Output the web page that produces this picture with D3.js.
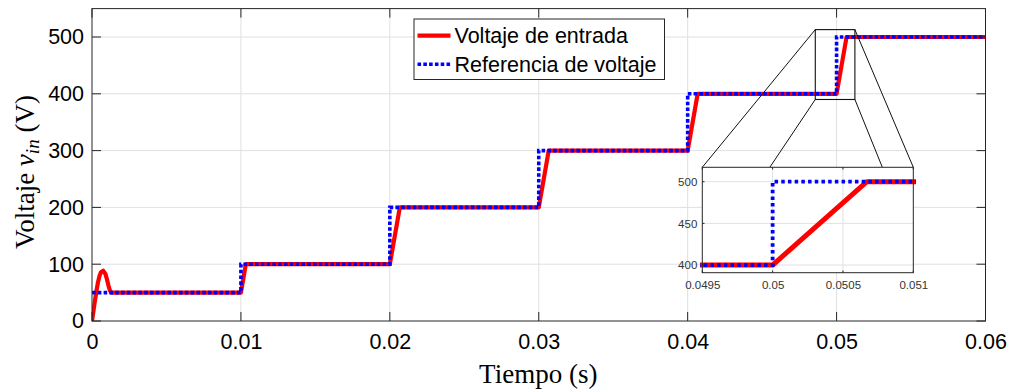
<!DOCTYPE html>
<html>
<head>
<meta charset="utf-8">
<script src="https://cdn.jsdelivr.net/npm/d3@7"></script>
<style>
  html, body { margin: 0; padding: 0; background: #fff; }
  svg { display: block; }
  .tick text { font-family: "Liberation Sans", Arial, sans-serif; }
</style>
</head>
<body>
<svg id="chart" width="1018" height="389"></svg>
<script>
// ---------------- DATA ----------------
const xTicks = [0, 0.01, 0.02, 0.03, 0.04, 0.05, 0.06];
const xTickLabels = ["0", "0.01", "0.02", "0.03", "0.04", "0.05", "0.06"];
const yTicks = [0, 100, 200, 300, 400, 500];
const xDomain = [0, 0.06];
const yDomain = [0, 550];

// Reference (step) voltage: [time, volts]
const refTime  = [0, 0.01, 0.01, 0.02, 0.02, 0.03, 0.03, 0.04, 0.04, 0.05, 0.05, 0.06];
const refValue = [50, 50, 100, 100, 200, 200, 300, 300, 400, 400, 500, 500];

// Measured input voltage: [time, volts]
const vinTime  = [0, 0.0001, 0.0002, 0.0003, 0.0004, 0.0005, 0.0006, 0.00075, 0.0009, 0.001, 0.0011, 0.0012, 0.0013,
                  0.01, 0.01033, 0.02, 0.02067, 0.03, 0.03067, 0.04, 0.04067, 0.05, 0.05067, 0.06];
const vinValue = [0, 18, 36, 53, 68, 79, 86, 88.5, 83, 74, 63, 54, 50,
                  50, 100, 100, 200, 200, 300, 300, 400, 400, 500, 500];

const seriesNames = ["Voltaje de entrada", "Referencia de voltaje"];

// Zoom inset
const insetXDomain = [0.0495, 0.051];
const insetYDomain = [390.8, 517.3];
const insetXTicks = [0.0495, 0.05, 0.0505, 0.051];
const insetXTickLabels = ["0.0495", "0.05", "0.0505", "0.051"];
const insetYTicks = [400, 450, 500];
// zoom marker rectangle in main-axes data units
const zoomRectX = [0.04857, 0.05123];
const zoomRectY = [390, 513];
// connector lines: main rect corner (x,y) -> inset top-edge x (data units)
const connFromX = [0.04857, 0.04857, 0.05123, 0.05123];
const connFromY = [513, 390, 513, 390];
const connToX   = [0.0495, 0.04998, 0.051, 0.05078];

// ---------------- LAYOUT ----------------
const svg = d3.select("#chart");
const M = {left: 92, right: 985.5, top: 8.6, bottom: 321};
const x = d3.scaleLinear().domain(xDomain).range([M.left, M.right]);
const y = d3.scaleLinear().domain(yDomain).range([M.bottom, M.top]);

const axisColor = "#262626";
const gridColor = "#e0e0e0";
const red = "#ff0000";
const blue = "#0000ff";

svg.append("rect").attr("width", 1018).attr("height", 389).attr("fill", "#fff");

// grid
const grid = svg.append("g");
grid.selectAll(".gx").data(xTicks.slice(1, -1)).enter().append("line")
  .attr("x1", d => x(d)).attr("x2", d => x(d))
  .attr("y1", M.top).attr("y2", M.bottom)
  .attr("stroke", gridColor).attr("stroke-width", 1);
grid.selectAll(".gy").data(yTicks.slice(1)).enter().append("line")
  .attr("x1", M.left).attr("x2", M.right)
  .attr("y1", d => y(d)).attr("y2", d => y(d))
  .attr("stroke", gridColor).attr("stroke-width", 1);

// clip
svg.append("clipPath").attr("id", "clipMain").append("rect")
  .attr("x", M.left).attr("y", M.top - 2).attr("width", M.right - M.left + 3).attr("height", M.bottom - M.top + 2);

const refPts = refTime.map((t, i) => [t, refValue[i]]);
const vinPts = vinTime.map((t, i) => [t, vinValue[i]]);

const line = d3.line().x(d => x(d[0])).y(d => y(d[1]));
const plot = svg.append("g").attr("clip-path", "url(#clipMain)");
plot.append("path").datum(vinPts).attr("d", line)
  .attr("fill", "none").attr("stroke", red).attr("stroke-width", 4.2).attr("stroke-linejoin", "round");
plot.append("path").datum(refPts).attr("d", line)
  .attr("fill", "none").attr("stroke", blue).attr("stroke-width", 3.6)
  .attr("stroke-dasharray", "3.6,2.2");

// axes (ticks inward)
const xAxis = d3.axisBottom(x).tickValues(xTicks).tickFormat((d, i) => xTickLabels[i]).tickSize(0).tickPadding(13);
const yAxis = d3.axisLeft(y).tickValues(yTicks).tickSize(0).tickPadding(8);
const gx = svg.append("g").attr("transform", `translate(0,${M.bottom})`).call(xAxis);
const gy = svg.append("g").attr("transform", `translate(${M.left},0)`).call(yAxis);
[gx, gy].forEach(g => {
  g.select(".domain").remove();
  g.selectAll("text").attr("font-size", "21.5px").attr("fill", "#000")
    .attr("font-family", "'Liberation Sans', Arial, sans-serif");
});
// inward tick marks
const tl = 9;
svg.append("g").selectAll("line").data(xTicks).enter().append("line")
  .attr("x1", d => x(d)).attr("x2", d => x(d)).attr("y1", M.bottom).attr("y2", M.bottom - tl)
  .attr("stroke", axisColor);
svg.append("g").selectAll("line").data(xTicks).enter().append("line")
  .attr("x1", d => x(d)).attr("x2", d => x(d)).attr("y1", M.top).attr("y2", M.top + tl)
  .attr("stroke", axisColor);
svg.append("g").selectAll("line").data(yTicks).enter().append("line")
  .attr("x1", M.left).attr("x2", M.left + tl).attr("y1", d => y(d)).attr("y2", d => y(d))
  .attr("stroke", axisColor);
svg.append("g").selectAll("line").data(yTicks).enter().append("line")
  .attr("x1", M.right).attr("x2", M.right - tl).attr("y1", d => y(d)).attr("y2", d => y(d))
  .attr("stroke", axisColor);
// frame
svg.append("rect").attr("x", M.left).attr("y", M.top)
  .attr("width", M.right - M.left).attr("height", M.bottom - M.top)
  .attr("fill", "none").attr("stroke", axisColor).attr("stroke-width", 1);

// axis labels
svg.append("text")
  .attr("x", (M.left + M.right) / 2 - 0.5).attr("y", 383)
  .attr("text-anchor", "middle")
  .attr("font-family", "'Liberation Serif', 'Times New Roman', serif")
  .attr("font-size", "27px").attr("fill", "#000")
  .text("Tiempo (s)");

const yl = svg.append("text")
  .attr("transform", "translate(34,172) rotate(-90)")
  .attr("text-anchor", "middle")
  .attr("font-family", "'Liberation Serif', 'Times New Roman', serif")
  .attr("font-size", "27px").attr("fill", "#000");
yl.append("tspan").text("Voltaje ");
yl.append("tspan").attr("font-style", "italic").text("v");
yl.append("tspan").attr("font-style", "italic").attr("font-size", "19px").attr("dy", "5").text("in");
yl.append("tspan").attr("dy", "-5").text(" (V)");

// zoom marker rectangle + connectors
const ix = d3.scaleLinear().domain(insetXDomain).range([702.3, 913.3]);
const iy = d3.scaleLinear().domain(insetYDomain).range([272.7, 167.3]);

svg.append("rect")
  .attr("x", x(zoomRectX[0])).attr("y", y(zoomRectY[1]))
  .attr("width", x(zoomRectX[1]) - x(zoomRectX[0]))
  .attr("height", y(zoomRectY[0]) - y(zoomRectY[1]))
  .attr("fill", "none").attr("stroke", "#111").attr("stroke-width", 1.1);
svg.append("g").selectAll("line").data(connFromX).enter().append("line")
  .attr("x1", (d, i) => x(d)).attr("y1", (d, i) => y(connFromY[i]))
  .attr("x2", (d, i) => ix(connToX[i])).attr("y2", iy(insetYDomain[1]))
  .attr("stroke", "#111").attr("stroke-width", 1);

// ---------------- INSET ----------------
const inset = svg.append("g");
inset.append("rect").attr("x", 702.3).attr("y", 167.3).attr("width", 211).attr("height", 105.4).attr("fill", "#fff");
inset.selectAll(".igx").data(insetXTicks.slice(1, -1)).enter().append("line")
  .attr("x1", d => ix(d)).attr("x2", d => ix(d)).attr("y1", 167.3).attr("y2", 272.7)
  .attr("stroke", gridColor);
inset.selectAll(".igy").data(insetYTicks).enter().append("line")
  .attr("x1", 702.3).attr("x2", 913.3).attr("y1", d => iy(d)).attr("y2", d => iy(d))
  .attr("stroke", gridColor);

svg.append("clipPath").attr("id", "clipInset").append("rect")
  .attr("x", 700).attr("y", 167.3).attr("width", 216).attr("height", 105.4);
const iline = d3.line().x(d => ix(d[0])).y(d => iy(d[1]));
const ip = inset.append("g").attr("clip-path", "url(#clipInset)");
ip.append("path").datum(vinPts).attr("d", iline)
  .attr("fill", "none").attr("stroke", red).attr("stroke-width", 5).attr("stroke-linejoin", "round");
ip.append("path").datum(refPts).attr("d", iline)
  .attr("fill", "none").attr("stroke", blue).attr("stroke-width", 3.8)
  .attr("stroke-dasharray", "3.5,3.2");

const ixAxis = d3.axisBottom(ix).tickValues(insetXTicks).tickFormat((d, i) => insetXTickLabels[i]).tickSize(0).tickPadding(8);
const iyAxis = d3.axisLeft(iy).tickValues(insetYTicks).tickSize(0).tickPadding(5);
const igx = inset.append("g").attr("transform", "translate(0,272.7)").call(ixAxis);
const igy = inset.append("g").attr("transform", "translate(702.3,0)").call(iyAxis);
[igx, igy].forEach(g => {
  g.select(".domain").remove();
  g.selectAll("text").attr("font-size", "11.5px").attr("fill", "#333")
    .attr("font-family", "'Liberation Sans', Arial, sans-serif");
});
inset.selectAll(".itx").data(insetXTicks).enter().append("line")
  .attr("x1", d => ix(d)).attr("x2", d => ix(d)).attr("y1", 272.7).attr("y2", 270.5).attr("stroke", axisColor);
inset.selectAll(".itx2").data(insetXTicks).enter().append("line")
  .attr("x1", d => ix(d)).attr("x2", d => ix(d)).attr("y1", 167.3).attr("y2", 169.5).attr("stroke", axisColor);
inset.selectAll(".ity").data(insetYTicks).enter().append("line")
  .attr("x1", 702.3).attr("x2", 704.5).attr("y1", d => iy(d)).attr("y2", d => iy(d)).attr("stroke", axisColor);
inset.append("rect").attr("x", 702.3).attr("y", 167.3).attr("width", 211).attr("height", 105.4)
  .attr("fill", "none").attr("stroke", axisColor).attr("stroke-width", 1);

// ---------------- LEGEND ----------------
const lg = svg.append("g");
lg.append("rect").attr("x", 414).attr("y", 19).attr("width", 250.5).attr("height", 60.5)
  .attr("fill", "#fff").attr("stroke", axisColor).attr("stroke-width", 1);
const legendRows = [
  {name: seriesNames[0], color: red, width: 4.2, dash: null},
  {name: seriesNames[1], color: blue, width: 3.6, dash: "3.6,2.2"}
];
legendRows.forEach((r, i) => {
  const cy = 35.7 + i * 28.6;
  lg.append("line").attr("x1", 417.5).attr("x2", 450.5).attr("y1", cy).attr("y2", cy)
    .attr("stroke", r.color).attr("stroke-width", r.width)
    .attr("stroke-dasharray", r.dash);
  lg.append("text").attr("x", 454.5).attr("y", cy).attr("dy", "0.35em")
    .attr("font-family", "'Liberation Sans', Arial, sans-serif")
    .attr("font-size", "21.5px").attr("fill", "#000").text(r.name);
});
</script>
</body>
</html>
